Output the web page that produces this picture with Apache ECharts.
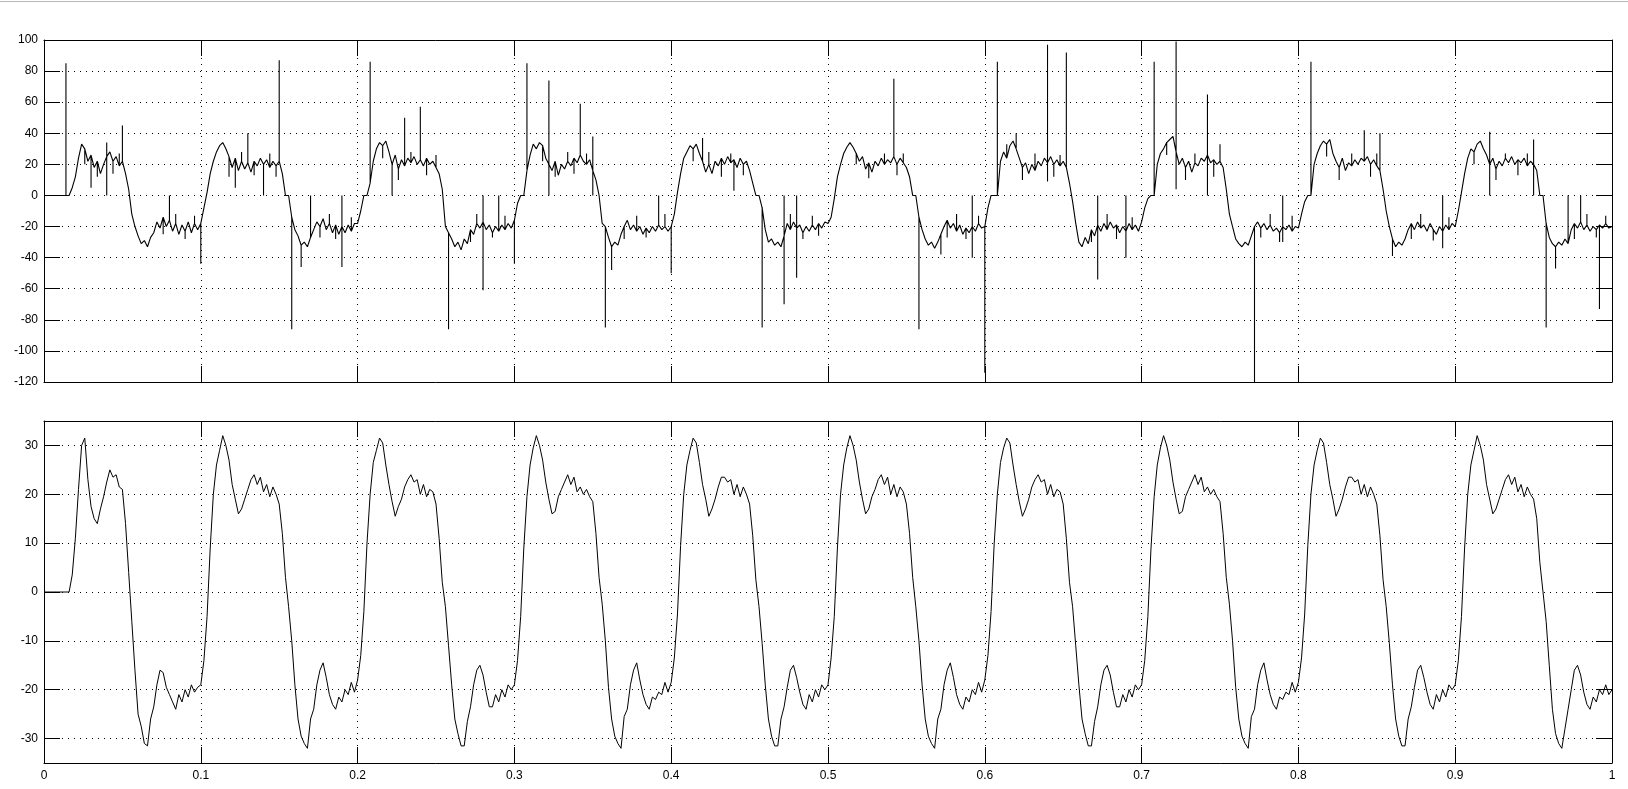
<!DOCTYPE html>
<html>
<head>
<meta charset="utf-8">
<script src="https://cdn.jsdelivr.net/npm/echarts@6/dist/echarts.min.js"></script>
<style>
html,body{margin:0;padding:0;background:#fff;}
#chart{width:1628px;height:789px;}
</style>
</head>
<body>
<div id="chart"></div>
<script>
// sampling step of both traces (seconds)
const DT = 0.002;

// x ticks
const xTicks = [0, 0.1, 0.2, 0.3, 0.4, 0.5, 0.6, 0.7, 0.8, 0.9, 1];
// top panel y ticks
const topYTicks = [-120, -100, -80, -60, -40, -20, 0, 20, 40, 60, 80, 100];
// bottom panel y ticks
const bottomYTicks = [-30, -20, -10, 0, 10, 20, 30];

// top trace, base samples (one line per 0.1 s)
const topValues = [
  0,0,0,0,0,0,0,0,0,5,12,24,33,30,22,26,18,22,14,20,25,28,22,25,19,22,14,4,-12,-20,-26,-31,-29,-33,-27,-24,-17,-21,-14,-20,-16,-23,-18,-25,-19,-23,-17,-24,-18,-22,
  -18,-8,2,14,22,28,32,34,30,25,18,24,16,22,17,21,15,22,19,24,20,23,18,22,19,22,14,0,0,-14,-22,-26,-32,-30,-33,-27,-22,-17,-20,-15,-22,-18,-24,-19,-25,-20,-24,-19,-23,-18,
  -18,-10,0,0,8,22,30,34,32,35,28,20,26,17,23,19,24,21,25,20,23,19,24,20,22,18,14,4,-20,-24,-28,-33,-30,-35,-28,-31,-22,-25,-18,-21,-17,-22,-19,-24,-20,-23,-19,-22,-18,-21,
  -16,-5,0,0,16,26,33,30,34,32,24,20,16,22,13,20,17,22,19,24,21,26,22,20,23,16,10,0,-18,-20,-27,-33,-30,-32,-25,-20,-16,-22,-19,-23,-20,-25,-21,-24,-20,-23,-19,-22,-20,-23,
  -20,-12,2,14,24,28,32,30,33,27,22,15,20,14,22,19,24,20,25,21,23,18,24,20,22,16,8,0,0,-8,-22,-30,-28,-32,-30,-33,-26,-18,-22,-17,-21,-19,-24,-20,-23,-19,-22,-18,-21,-17,
  -18,-14,-2,12,20,27,31,34,31,27,22,25,17,21,15,22,19,24,20,23,21,25,20,24,21,18,12,0,0,-14,-22,-28,-32,-30,-34,-30,-25,-20,-16,-21,-18,-23,-19,-25,-21,-24,-20,-23,-18,-21,
  -20,-8,0,0,0,22,28,24,32,35,30,24,18,21,14,20,16,22,19,24,21,25,20,23,19,22,18,8,-4,-18,-30,-33,-27,-31,-22,-26,-19,-23,-18,-22,-17,-21,-19,-24,-20,-23,-18,-22,-19,-23,
  -17,-8,-2,0,0,20,27,30,34,36,38,28,20,24,18,22,15,21,19,24,22,26,21,23,20,22,18,4,-12,-20,-28,-31,-33,-30,-32,-26,-20,-17,-21,-18,-22,-19,-23,-21,-24,-20,-22,-19,-23,-20,
  -21,-12,-4,0,0,20,27,32,35,33,36,27,22,18,24,16,21,19,23,20,24,22,25,20,23,19,16,4,-10,-20,-28,-33,-30,-32,-28,-22,-18,-22,-17,-21,-19,-23,-18,-22,-25,-20,-23,-19,-22,-18,
  -20,-10,2,14,24,30,28,33,35,30,26,20,24,17,22,19,24,21,25,20,23,21,24,19,22,20,16,0,0,-18,-27,-31,-33,-30,-32,-28,-31,-22,-18,-21,-17,-22,-19,-23,-20,-22,-19,-21,-18,-21,
  -20
];

// top trace, large single-sample spikes: [time, value]
const topSpikes = [
  [0.014, 85], [0.030, 5], [0.040, 34], [0.040, 0], [0.050, 45], [0.080, 0], [0.100, -44],
  [0.122, 5], [0.130, 40], [0.140, 0], [0.150, 87], [0.158, -86], [0.164, -46], [0.170, 0], [0.190, -46], [0.190, 0],
  [0.208, 86], [0.222, 0], [0.230, 50], [0.240, 57], [0.258, -86], [0.280, -61], [0.280, 0], [0.290, 0], [0.300, -44],
  [0.308, 85], [0.322, 74], [0.322, 0], [0.342, 59], [0.350, 38], [0.350, 0], [0.358, -85], [0.362, -48], [0.392, 0], [0.400, -50],
  [0.420, 37], [0.440, 3], [0.458, -85], [0.472, -70], [0.472, 0], [0.480, -53], [0.480, 0],
  [0.542, 75], [0.558, -86], [0.572, -38], [0.592, -40], [0.592, 0], [0.600, -114],
  [0.608, 86], [0.620, 40], [0.640, 97], [0.640, 9], [0.652, 92], [0.672, -54], [0.672, 0], [0.690, -40], [0.690, 0],
  [0.708, 86], [0.722, 99], [0.722, 4], [0.742, 65], [0.742, 0], [0.750, 33], [0.772, -120], [0.790, 0], [0.790, -30],
  [0.808, 86], [0.842, 42], [0.852, 40], [0.860, -39], [0.892, 0], [0.892, -34],
  [0.922, 41], [0.922, 0], [0.950, 36], [0.950, 0], [0.958, -85], [0.964, -47], [0.972, 0], [0.980, 0], [0.992, -73]
];

// top trace, small noise strokes on the plateaus: [time, value]
const topSmallSpikes = [
  [0.026, 20], [0.034, 12], [0.044, 14], [0.048, 27], [0.076, -25], [0.084, -12], [0.090, -28], [0.096, -13],
  [0.118, 12], [0.126, 28], [0.134, 13], [0.144, 27], [0.148, 12], [0.176, -27], [0.182, -12], [0.186, -28], [0.196, -14],
  [0.216, 24], [0.226, 10], [0.234, 28], [0.244, 13], [0.250, 26], [0.272, -30], [0.276, -12], [0.286, -27], [0.294, -13],
  [0.318, 22], [0.326, 12], [0.334, 28], [0.338, 14], [0.346, 27], [0.370, -28], [0.378, -13], [0.384, -27], [0.396, -12],
  [0.414, 22], [0.424, 28], [0.432, 12], [0.438, 27], [0.446, 13], [0.476, -12], [0.484, -28], [0.490, -13], [0.494, -26],
  [0.518, 20], [0.526, 11], [0.536, 27], [0.544, 13], [0.548, 27], [0.576, -27], [0.582, -12], [0.588, -28], [0.596, -13],
  [0.614, 33], [0.624, 10], [0.632, 27], [0.644, 12], [0.648, 26], [0.668, -30], [0.678, -12], [0.684, -28], [0.694, -14],
  [0.716, 26], [0.728, 10], [0.734, 27], [0.746, 12], [0.776, -27], [0.782, -12], [0.788, -30], [0.796, -13],
  [0.818, 25], [0.826, 10], [0.834, 27], [0.846, 12], [0.850, 27], [0.872, -28], [0.878, -12], [0.886, -29], [0.896, -14],
  [0.912, 20], [0.926, 10], [0.932, 27], [0.940, 13], [0.946, 27], [0.976, -28], [0.984, -12], [0.990, -27], [0.996, -13]
];

// bottom trace samples (one line per 0.1 s)
const bottomValues = [
  0,0,0,0,0,0,0,0,0,3.5,11,21,30,31.5,23,17.5,15,14,17,19.5,22.5,25,23.5,24,21.5,21,14,4,-6,-16,-25,-27.5,-31,-31.5,-26,-23.5,-19,-16,-16.5,-19.5,-21,-22.5,-24,-21,-22.5,-20,-21.5,-19,-20.5,-19.5,
  -19,-14,-5,9,20,26,29,32,30,27,22,19,16,17,19,21,23,24,22,23.5,20.5,22,19.5,21.5,20,18,12,3,-3,-10,-19,-26,-29.5,-31,-32,-26,-24,-19,-16,-14.5,-17.5,-21,-23,-24,-21.5,-22.5,-20,-21,-18.5,-20.5,
  -18,-13,-4,10,20,26.5,29,31.5,30.5,26,22,18.5,15.5,17.5,19,21.5,23,24,22.5,23,20,22,19.5,21,20.5,18,11,2,-3,-11,-19,-26,-29,-31.5,-31.5,-26.5,-23.5,-19,-16,-15,-17,-20.5,-23.5,-23.5,-21,-22.5,-20,-21.5,-19,-20,
  -19,-14,-5,9,19.5,26,29.5,32,30,27,22.5,19,16,16.5,19.5,21,22.5,24,22,23.5,20.5,21.5,20,21,19.5,18.5,12,3,-2.5,-10,-19.5,-26,-29.5,-31,-32,-25.5,-24,-19,-16,-14.5,-18,-21,-23,-24,-21.5,-22,-20.5,-21,-18.5,-20.5,
  -18.5,-13.5,-4.5,9.5,20,26,29,31.5,30.5,26.5,22,19,15.5,17,19,21.5,23.5,23.5,22.5,23,20,22,19.5,21.5,20,18,11.5,2.5,-3,-10.5,-19,-26,-29.5,-31.5,-31.5,-26,-23.5,-19.5,-16,-15,-17.5,-20.5,-23,-24,-21,-22.5,-20,-21.5,-19,-20,
  -19,-13.5,-5,9,20,26,29.5,32,30,27,22.5,19,16,17,19.5,21,23,24,22,23.5,20,22,19.5,21.5,20.5,18,12,3,-3,-10,-19,-26,-29.5,-31,-32,-26,-24,-19,-16,-14.5,-17.5,-21,-23,-24,-21.5,-22.5,-20,-21,-18.5,-20.5,
  -18,-13,-4,10,20,26.5,29.5,31.5,30.5,26,22,18.5,15.5,17,19,21.5,23,24,22.5,23,20,22,19.5,21,20.5,18,11,2,-3,-11,-19,-26,-29,-31.5,-31.5,-26.5,-23.5,-19,-16,-15,-17,-20.5,-23.5,-23.5,-21,-22.5,-20,-21.5,-19,-20,
  -19,-14,-5,9,19.5,26,29.5,32,30,27,22.5,19,16,16.5,19.5,21,22.5,24,22,23.5,20.5,21.5,20,21,19.5,18.5,12,3,-2.5,-10,-19.5,-26,-29.5,-31,-32,-25.5,-24,-19,-16,-14.5,-18,-21,-23,-24,-21.5,-22,-20.5,-21,-18.5,-20.5,
  -18.5,-13.5,-4.5,9.5,20,26,29,31.5,30.5,26.5,22,19,15.5,17,19,21.5,23.5,23.5,22.5,23,20,22,19.5,21.5,20,18,11.5,2.5,-3,-10.5,-19,-26,-29.5,-31.5,-31.5,-26,-23.5,-19.5,-16,-15,-17.5,-20.5,-23,-24,-21,-22.5,-20,-21.5,-19,-20,
  -19,-14,-5,9,20,26,29,32,30,27,22,19,16,17,19,21,23,24,22,23.5,20.5,22,19.5,21.5,20,19,15,6,0,-6,-15,-24,-29,-31,-32,-28,-24,-20,-16,-15,-17,-20.5,-23,-24,-21.5,-22.5,-20,-21,-19,-21,
  -20
];

// ---- build series data from the arrays ----
function timeAt(i) { return Math.round(i * DT * 1000) / 1000; }

const spikeMap = {};
topSpikes.concat(topSmallSpikes).forEach(function (s) {
  const k = Math.round(s[0] / DT);
  (spikeMap[k] = spikeMap[k] || []).push(s[1]);
});
const topData = [];
topValues.forEach(function (v, i) {
  const t = timeAt(i);
  topData.push([t, v]);
  if (spikeMap[i]) {
    spikeMap[i].forEach(function (s) {
      topData.push([t, s]);
      topData.push([t, v]);
    });
  }
});
const bottomData = bottomValues.map(function (v, i) { return [timeAt(i), v]; });

// ---- styling helpers ----
const FONT = 'Liberation Sans, Arial, sans-serif';
const TICK_LEN = 16;
const dotted = { color: '#000', width: 1, type: [1, 5] };
const frameLine = { show: true, onZero: false, lineStyle: { color: '#000', width: 1 } };

function xAxisDef(gridIndex, position, showLabel) {
  return {
    type: 'value', gridIndex: gridIndex, position: position,
    min: xTicks[0], max: xTicks[xTicks.length - 1], interval: 0.1,
    axisLine: frameLine,
    axisTick: { show: true, inside: true, length: TICK_LEN, lineStyle: { color: '#000', width: 1 } },
    axisLabel: {
      show: showLabel, color: '#000', fontSize: 12, fontFamily: FONT, margin: 7,
      showMinLabel: true, showMaxLabel: true,
      formatter: function (v) { return String(Math.round(v * 10) / 10); }
    },
    splitLine: { show: position === 'bottom', lineStyle: dotted }
  };
}

function yAxisDef(gridIndex, position, ticks, showLabel) {
  const first = ticks[0], last = ticks[ticks.length - 1];
  const isTop = gridIndex === 0;
  const def = {
    type: 'value', gridIndex: gridIndex, position: position,
    axisLine: frameLine,
    axisTick: { show: true, inside: true, length: TICK_LEN, lineStyle: { color: '#000', width: 1 } },
    axisLabel: {
      show: showLabel, color: '#000', fontSize: 12, fontFamily: FONT, margin: 6,
      showMinLabel: true, showMaxLabel: true
    },
    splitLine: { show: position === 'left', lineStyle: dotted }
  };
  if (isTop) {
    def.min = first; def.max = last; def.interval = 20;
  } else {
    def.min = -35; def.max = 35;
    def.axisTick.customValues = ticks;
    def.axisLabel.customValues = ticks;
  }
  return def;
}

const chart = echarts.init(document.getElementById('chart'), null, { renderer: 'canvas' });
chart.setOption({
  backgroundColor: '#fff',
  animation: false,
  graphic: [{
    type: 'line', silent: true,
    shape: { x1: 0, y1: 1.5, x2: 1628, y2: 1.5 },
    style: { stroke: '#b8b8b8', lineWidth: 1 }
  }],
  grid: [
    { left: 44, top: 40, width: 1568, height: 342, outerBoundsMode: 'none', containLabel: false },
    { left: 44, top: 421, width: 1568, height: 342, outerBoundsMode: 'none', containLabel: false }
  ],
  xAxis: [
    xAxisDef(0, 'bottom', false),
    xAxisDef(0, 'top', false),
    xAxisDef(1, 'bottom', true),
    xAxisDef(1, 'top', false)
  ],
  yAxis: [
    yAxisDef(0, 'left', topYTicks, true),
    yAxisDef(0, 'right', topYTicks, false),
    yAxisDef(1, 'left', bottomYTicks, true),
    yAxisDef(1, 'right', bottomYTicks, false)
  ],
  series: [
    {
      type: 'line', xAxisIndex: 0, yAxisIndex: 0, data: topData,
      showSymbol: false, symbol: 'none', clip: true, silent: true,
      lineStyle: { color: '#000', width: 1.1 }
    },
    {
      type: 'line', xAxisIndex: 2, yAxisIndex: 2, data: bottomData,
      showSymbol: false, symbol: 'none', clip: true, silent: true,
      lineStyle: { color: '#000', width: 1 }
    }
  ]
});
</script>
</body>
</html>
